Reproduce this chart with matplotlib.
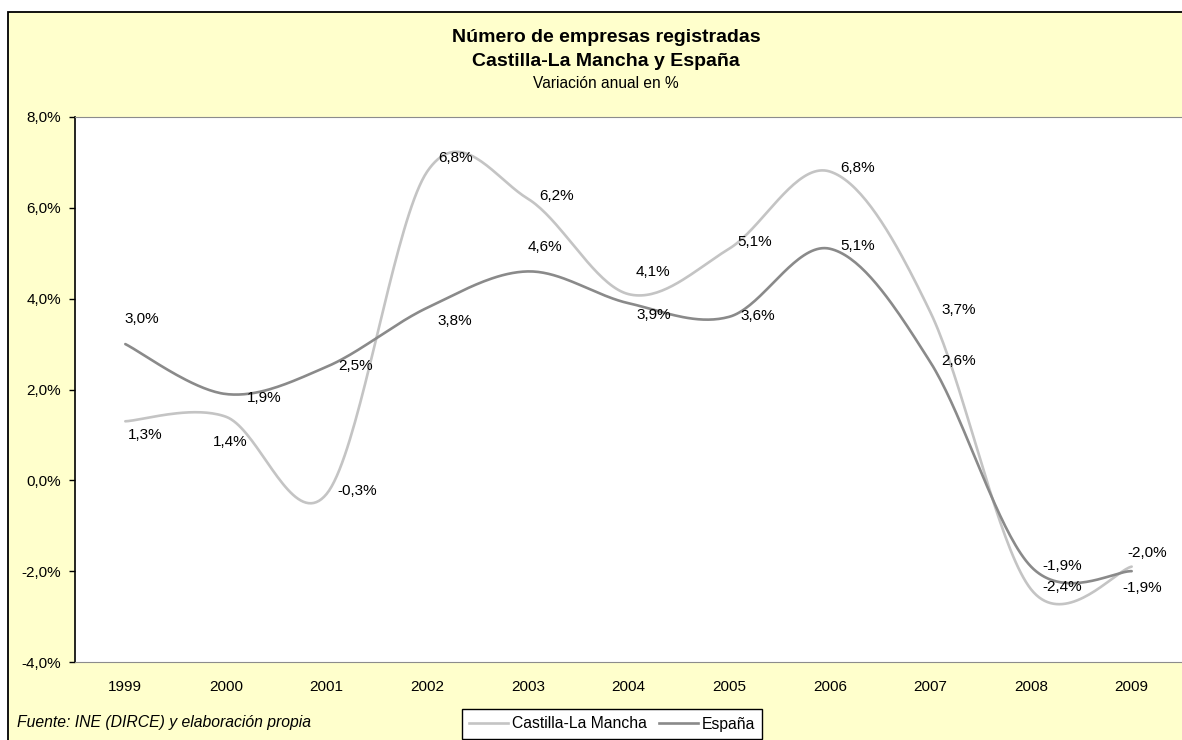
import numpy as np
import matplotlib
matplotlib.use("Agg")
import matplotlib.pyplot as plt
import matplotlib.patches as mpatches
from matplotlib.lines import Line2D
from matplotlib.ticker import FuncFormatter

plt.rcParams['font.family'] = ['Liberation Sans', 'DejaVu Sans']

# Data
years = ['1999', '2000', '2001', '2002', '2003', '2004', '2005', '2006', '2007', '2008', '2009']
castilla = [1.3, 1.4, -0.3, 6.8, 6.2, 4.1, 5.1, 6.8, 3.7, -2.4, -1.9]
espana = [3.0, 1.9, 2.5, 3.8, 4.6, 3.9, 3.6, 5.1, 2.6, -1.9, -2.0]
y_ticks = [-4, -2, 0, 2, 4, 6, 8]

# label offsets in pixels (dx, dy)
castilla_off = [(20, -14), (4, -25), (31, 3), (28, 14), (29, 3), (24, 22),
                (26, 7), (28, 4), (28, 2), (31, 2), (11, -21)]
espana_off = [(16, 25), (38, -4), (29, 1), (28, -13), (17, 24), (25, -12),
              (29, 1), (28, 3), (28, 1), (31, 1), (16, 18)]

LIGHT = '#c4c4c4'
DARK = '#8a8a8a'
YELLOW = '#ffffcc'


def smooth(x, y, n=40):
    """Excel-like smoothed line (Catmull-Rom through the points)"""
    x = np.asarray(x, float)
    y = np.asarray(y, float)
    px = np.concatenate([[x[0]], x, [x[-1]]])
    py = np.concatenate([[y[0]], y, [y[-1]]])
    xs, ys = [], []
    for i in range(1, len(px) - 2):
        p0, p1, p2, p3 = [np.array([px[k], py[k]]) for k in (i - 1, i, i + 1, i + 2)]
        c1 = p1 + (p2 - p0) / 6
        c2 = p2 - (p3 - p1) / 6
        t = np.linspace(0, 1, n)[:, None]
        pts = ((1 - t) ** 3) * p1 + 3 * ((1 - t) ** 2) * t * c1 + 3 * (1 - t) * t ** 2 * c2 + t ** 3 * p2
        xs.extend(pts[:, 0])
        ys.extend(pts[:, 1])
    return np.array(xs), np.array(ys)


W, H = 1182, 740
fig = plt.figure(figsize=(W / 100, H / 100), dpi=100, facecolor='white')

# outer chart area (cropped at right and bottom)
bg = mpatches.Rectangle((8 / W, -0.05), 1.1, (H - 12) / H + 0.05, transform=fig.transFigure,
                        facecolor=YELLOW, edgecolor='black', linewidth=1.3, zorder=0)
fig.add_artist(bg)

ax = fig.add_axes([75 / W, (H - 662) / H, (W - 75) / W, (662 - 117) / H])
ax.set_facecolor('white')

x = np.arange(len(years))
for vals, col, offs in [(castilla, LIGHT, castilla_off), (espana, DARK, espana_off)]:
    sx, sy = smooth(x, vals)
    ax.plot(sx, sy, color=col, linewidth=1.9, solid_capstyle='round', zorder=3)
    for xi, v, (dx, dy) in zip(x, vals, offs):
        ax.annotate(f'{v:.1f}%'.replace('.', ','), (xi, v), xytext=(dx, dy),
                    textcoords='offset pixels', ha='center', va='center',
                    fontsize=11, color='black', zorder=4)

ax.set_xlim(-0.5, len(years) - 0.5)
ax.set_ylim(-4, 8)
ax.set_yticks(y_ticks)
ax.yaxis.set_major_formatter(FuncFormatter(lambda v, p: f'{v:.1f}%'.replace('.', ',')))
ax.set_xticks(x)
ax.set_xticklabels(years)
ax.tick_params(axis='x', length=0, pad=13, labelsize=11)
ax.tick_params(axis='y', length=4, width=1, direction='out', pad=6, labelsize=11)

ax.spines['left'].set_color('black')
ax.spines['left'].set_linewidth(1.2)
ax.spines['top'].set_color('#8c8c8c')
ax.spines['bottom'].set_color('#8c8c8c')
ax.spines['right'].set_visible(False)

# titles
fig.text(606 / W, 1 - 37 / H, 'Número de empresas registradas', ha='center', va='center',
         fontsize=14, fontweight='bold')
fig.text(606 / W, 1 - 61 / H, 'Castilla-La Mancha y España', ha='center', va='center',
         fontsize=14, fontweight='bold')
fig.text(606 / W, 1 - 84 / H, 'Variación anual en %', ha='center', va='center', fontsize=11.2)

# source note
fig.text(17 / W, 1 - 722 / H, 'Fuente: INE (DIRCE) y elaboración propia', ha='left',
         va='center', fontsize=11.3, style='italic')

# legend
handles = [Line2D([], [], color=LIGHT, linewidth=1.9), Line2D([], [], color=DARK, linewidth=1.9)]
leg = fig.legend(handles, ['Castilla-La Mancha', 'España'], loc='center',
                 bbox_to_anchor=(612 / W, 1 - 724 / H), ncol=2, fontsize=11.3,
                 frameon=True, fancybox=False, edgecolor='black', framealpha=1,
                 handlelength=2.5, handletextpad=0.2, columnspacing=0.8,
                 borderpad=0.45)
leg.get_frame().set_linewidth(1.0)

fig.savefig('out.png', dpi=100, facecolor='white')
